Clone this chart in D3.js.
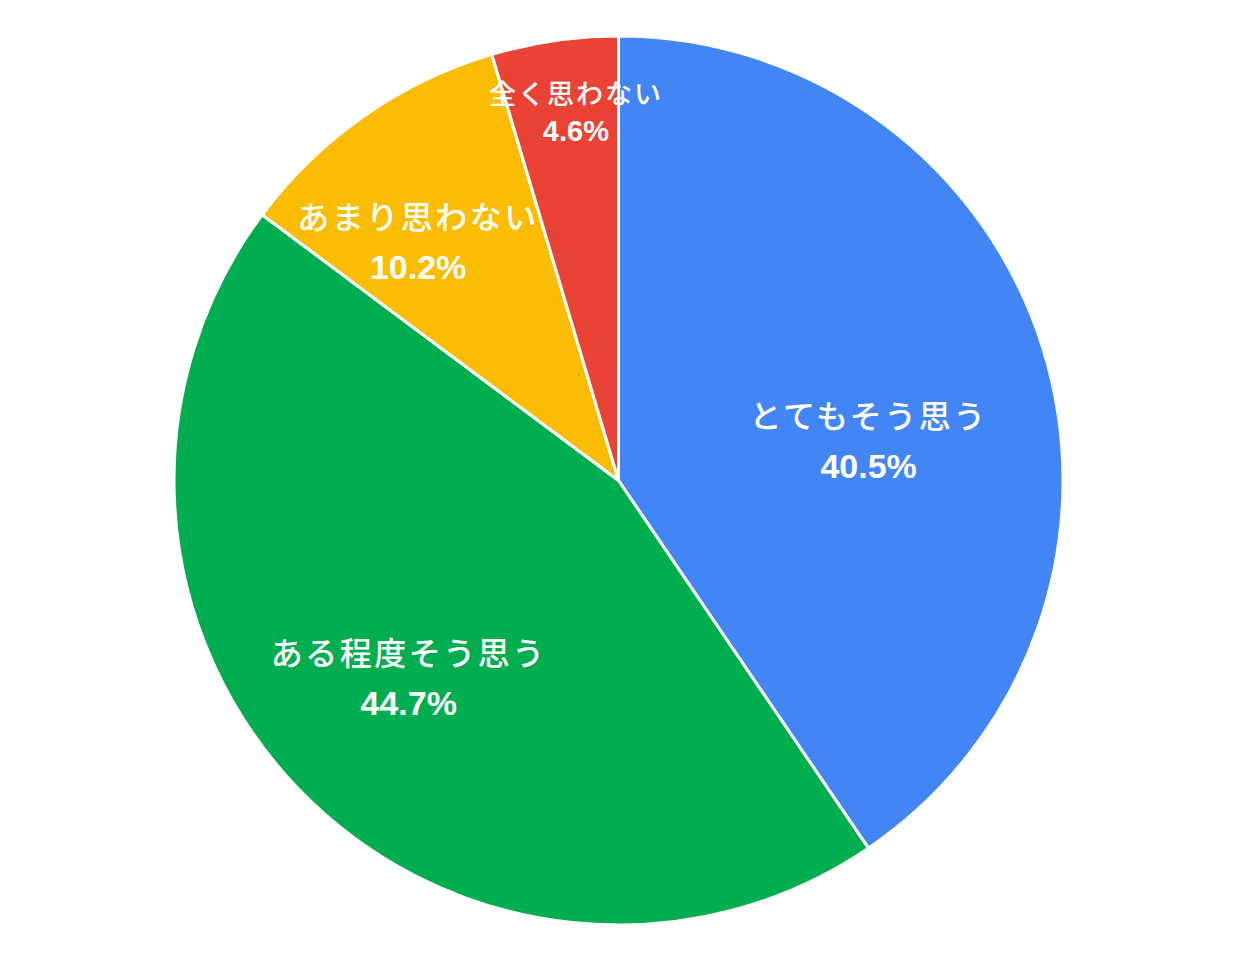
<!DOCTYPE html>
<html><head><meta charset="utf-8">
<script src="https://cdn.jsdelivr.net/npm/d3@7"></script>
<style>html,body{margin:0;padding:0;background:#fff;}svg{display:block;}</style>
</head><body>
<svg id="chart" width="1242" height="967"></svg>
<script>
const categories = ["とてもそう思う", "ある程度そう思う", "あまり思わない", "全く思わない"];
const values = [40.5, 44.7, 10.2, 4.6];
const colors = ["#4285F4", "#00AE4F", "#FBBC04", "#EA4335"];

const W = 1242, H = 967;
const cx = 618.5, cy = 480.5, R = 444.5;
// label styling (offsets from centroid, font sizes, line gap)
const labelStyle = [
  {dx: -26, dy: 44, size: 32, pct: 34, gap: 52, ls: 2.5},
  {dx: -1, dy: -3, size: 32, pct: 34, gap: 52, ls: 2.5},
  {dx: -35, dy: -3, size: 32, pct: 34, gap: 52, ls: 2.5},
  {dx: -1, dy: -83, size: 27, pct: 29, gap: 39, ls: 2}
];

const svg = d3.select("#chart");
const g = svg.append("g").attr("transform", `translate(${cx},${cy})`);
const data = categories.map((c, i) => ({cat: c, val: values[i], i}));
const pie = d3.pie().value(d => d.val).sort(null);
const arc = d3.arc().innerRadius(0).outerRadius(R);
const labelArc = d3.arc().innerRadius(R * 0.65).outerRadius(R * 0.65);
const arcs = pie(data);

g.selectAll("path.slice").data(arcs).enter().append("path")
  .attr("class", "slice")
  .attr("d", arc)
  .attr("fill", d => colors[d.data.i])
  .attr("stroke", "#fff")
  .attr("stroke-width", 3)
  .attr("stroke-linejoin", "round");

const labels = g.selectAll("g.lab").data(arcs).enter().append("g")
  .attr("class", "lab")
  .attr("transform", d => {
    const [x, y] = labelArc.centroid(d);
    const s = labelStyle[d.data.i];
    return `translate(${x + s.dx},${y + s.dy})`;
  });
labels.append("text")
  .attr("text-anchor", "middle")
  .attr("dominant-baseline", "central")
  .attr("y", d => -labelStyle[d.data.i].gap / 2)
  .attr("fill", "#fff")
  .attr("font-family", "'Noto Sans CJK JP', sans-serif")
  .attr("font-weight", 500)
  .attr("font-size", d => labelStyle[d.data.i].size)
  .attr("letter-spacing", d => labelStyle[d.data.i].ls)
  .text(d => d.data.cat);
labels.append("text")
  .attr("text-anchor", "middle")
  .attr("dominant-baseline", "central")
  .attr("y", d => labelStyle[d.data.i].gap / 2)
  .attr("fill", "#fff")
  .attr("font-family", "Arial, 'Liberation Sans', sans-serif")
  .attr("font-weight", 700)
  .attr("font-size", d => labelStyle[d.data.i].pct)
  .text(d => d.data.val.toFixed(1) + "%");
</script>
</body></html>
